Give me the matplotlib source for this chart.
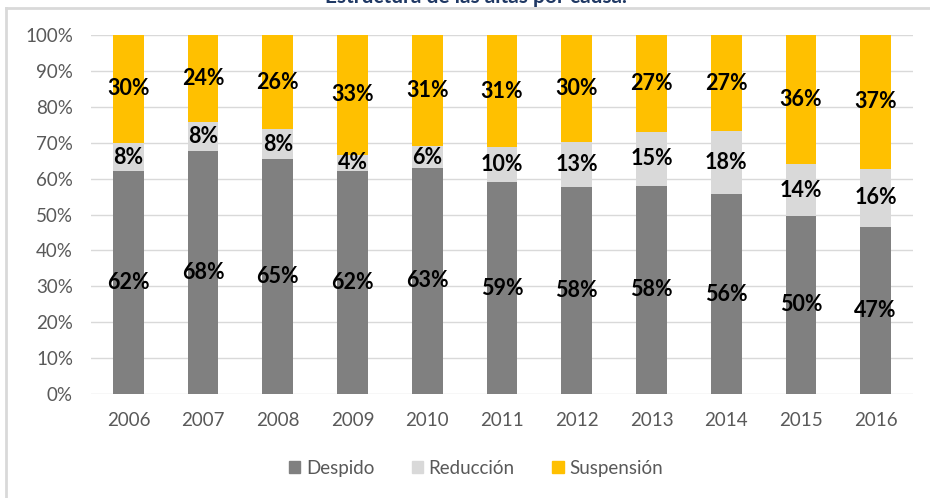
import matplotlib
matplotlib.use("Agg")
import matplotlib.pyplot as plt
from matplotlib.lines import Line2D
import numpy as np

years = ["2006", "2007", "2008", "2009", "2010", "2011", "2012", "2013", "2014", "2015", "2016"]
despido = [62.0, 67.8, 65.4, 62.2, 63.0, 59.0, 57.6, 58.0, 55.6, 49.6, 46.6]
reduccion = [8.0, 8.0, 8.4, 4.4, 6.0, 9.8, 12.6, 15.0, 17.6, 14.4, 16.2]
suspension = [30.0, 24.2, 26.2, 33.4, 31.0, 31.2, 29.8, 27.0, 26.8, 36.0, 37.2]
series_names = ["Despido", "Reducción", "Suspensión"]
colors = ["#808080", "#D9D9D9", "#FFC000"]
title = "Estructura de las altas por causa."

plt.rcParams['font.family'] = ['Lato', 'DejaVu Sans']

fig = plt.figure(figsize=(9.3, 4.98), dpi=100)
ax = fig.add_axes([91/930, 1 - 394/498, (913 - 91)/930, (394 - 35)/498])

x = np.arange(len(years))
bottom = np.zeros(len(years))
for vals, col in zip([despido, reduccion, suspension], colors):
    v = np.array(vals)
    ax.bar(x, v, bottom=bottom, width=0.41, color=col, zorder=3)
    for xi, b, h in zip(x, bottom, v):
        ax.text(xi, b + h / 2, f"{round(h):d}%", ha='center', va='center',
                fontsize=15.5, fontweight='bold', color='black', zorder=4)
    bottom = bottom + v

ax.set_xlim(-0.5, len(years) - 0.5)
ax.set_ylim(0, 100)
ax.set_yticks(np.arange(0, 101, 10))
ax.set_yticklabels([f"{t}%" for t in range(0, 101, 10)])
ax.set_xticks(x)
ax.set_xticklabels(years)
ax.tick_params(axis='both', length=0, labelsize=13.5, labelcolor='#595959')
ax.tick_params(axis='y', pad=13)
ax.tick_params(axis='x', pad=13)
ax.grid(axis='y', color='#D9D9D9', linewidth=1, zorder=0)
for s in ax.spines.values():
    s.set_visible(False)

# frame lines
fig.add_artist(Line2D([6/930, 1], [1 - 8/498, 1 - 8/498], color='#D9D9D9', linewidth=2, transform=fig.transFigure))
fig.add_artist(Line2D([6/930, 6/930], [0, 1 - 8/498], color='#D9D9D9', linewidth=2, transform=fig.transFigure))

fig.text(476/930, 1 - 3/498, title, ha='center', va='baseline', fontsize=15,
         fontweight='bold', color='#1F3864')

handles = [plt.Rectangle((0, 0), 1, 1, color=c) for c in colors]
fig.legend(handles, series_names, loc='center', bbox_to_anchor=(476/930, 1 - 468/498),
           ncol=3, frameon=False, fontsize=13.5, labelcolor='#595959',
           handlelength=0.6, handleheight=0.6, handletextpad=0.3, columnspacing=2.0)

fig.savefig("out.png", dpi=100)
